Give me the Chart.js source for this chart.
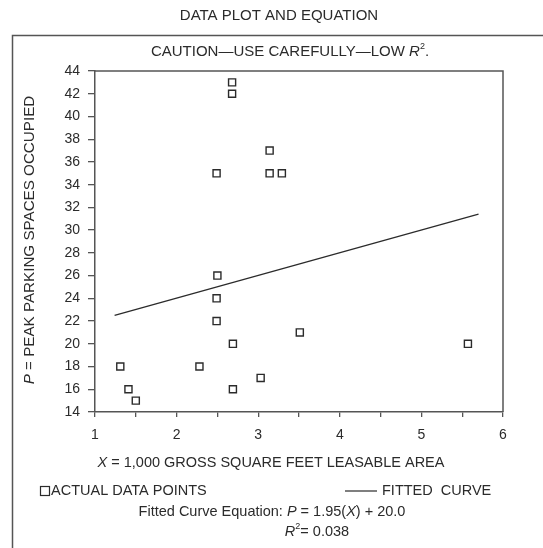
<!DOCTYPE html>
<html>
<head>
<meta charset="utf-8">
<script src="https://cdn.jsdelivr.net/npm/chart.js@4"></script>
<style>
  html, body { margin: 0; padding: 0; background: #fff; }
  #wrap { position: relative; width: 543px; height: 548px; }
</style>
</head>
<body>
<div id="wrap"><canvas id="chart"></canvas></div>
<script>
// actual data points
const areaX = [2.68, 2.68, 2.49, 3.14, 3.14, 3.29, 2.50, 2.49, 2.49, 2.69, 3.51, 1.31, 2.28, 1.41, 1.50, 2.69, 3.03, 5.57];
const spacesY = [43, 42, 35, 37, 35, 35, 26, 24, 22, 20, 21, 18, 18, 16, 15, 16, 17, 20];

// ends of the fitted line as drawn
const fitX = [1.24, 5.7];
const fitY = [22.5, 31.4];

const xTickLabels = ["1", "2", "3", "4", "5", "6"];

const INK = "#2b2b2b";
const AXIS = "#555555";
const FONT = 'Arial, "Liberation Sans", sans-serif';

// draw a line of text made of pieces: [text, italic, superscript]
function drawRich(ctx, parts, x, y, align, size) {
  const fontFor = (p) => `${p[1] ? "italic " : ""}${p[2] ? Math.round(size * 0.6) : size}px ${FONT}`;
  let total = 0;
  parts.forEach((p) => {
    ctx.font = fontFor(p);
    total += ctx.measureText(p[0]).width;
  });
  let cx = align === "center" ? x - total / 2 : align === "right" ? x - total : x;
  ctx.textAlign = "left";
  ctx.textBaseline = "middle";
  parts.forEach((p) => {
    ctx.font = fontFor(p);
    ctx.fillText(p[0], cx, p[2] ? y - size * 0.38 : y);
    cx += ctx.measureText(p[0]).width;
  });
}

const decorPlugin = {
  id: "decor",
  afterDraw(chart) {
    const ctx = chart.ctx;
    const a = chart.chartArea;
    ctx.save();

    // outer box (left and top edges show)
    ctx.strokeStyle = AXIS;
    ctx.lineWidth = 1.5;
    ctx.beginPath();
    ctx.moveTo(12.5, 548);
    ctx.lineTo(12.5, 35.5);
    ctx.lineTo(543, 35.5);
    ctx.stroke();

    // top and right of the plot frame
    ctx.beginPath();
    ctx.moveTo(a.left, a.top);
    ctx.lineTo(a.right, a.top);
    ctx.lineTo(a.right, a.bottom);
    ctx.stroke();

    ctx.fillStyle = INK;
    drawRich(ctx, [["DATA PLOT AND EQUATION"]], 279, 16, "center", 15);
    drawRich(ctx, [["CAUTION\u2014USE CAREFULLY\u2014LOW "], ["R", true], ["2", false, true], ["."]], 290, 52, "center", 15);

    // axis titles
    drawRich(ctx, [["X", true], [" = 1,000 GROSS SQUARE FEET LEASABLE AREA"]], 271, 463, "center", 14.5);
    ctx.save();
    ctx.translate(30, 240);
    ctx.rotate(-Math.PI / 2);
    drawRich(ctx, [["P", true], [" = PEAK PARKING SPACES OCCUPIED"]], 0, 0, "center", 15.2);
    ctx.restore();

    // legend
    ctx.lineWidth = 1.2;
    ctx.strokeStyle = INK;
    ctx.strokeRect(40.5, 486.5, 9, 9);
    drawRich(ctx, [["ACTUAL DATA POINTS"]], 51, 491, "left", 14.5);
    ctx.beginPath();
    ctx.moveTo(345, 491);
    ctx.lineTo(377, 491);
    ctx.stroke();
    drawRich(ctx, [["FITTED  CURVE"]], 382, 491, "left", 14.5);

    drawRich(ctx, [["Fitted Curve Equation: "], ["P", true], [" = 1.95("], ["X", true], [") + 20.0"]], 272, 512, "center", 14.5);
    drawRich(ctx, [["R", true], ["2", false, true], ["= 0.038"]], 317, 532, "center", 14.5);

    ctx.restore();
  }
};

const points = areaX.map((x, i) => ({ x, y: spacesY[i] }));
const fitLine = fitX.map((x, i) => ({ x, y: fitY[i] }));

new Chart(document.getElementById("chart"), {
  type: "scatter",
  data: {
    datasets: [
      {
        label: "ACTUAL DATA POINTS",
        data: points,
        pointStyle: "rect",
        pointRadius: 5,
        pointBackgroundColor: "#ffffff",
        pointBorderColor: INK,
        pointBorderWidth: 1.4
      },
      {
        type: "line",
        label: "FITTED CURVE",
        data: fitLine,
        borderColor: INK,
        borderWidth: 1.3,
        pointRadius: 0,
        fill: false
      }
    ]
  },
  options: {
    responsive: true,
    maintainAspectRatio: false,
    animation: false,
    devicePixelRatio: 1,
    layout: {
      autoPadding: false,
      padding: { left: 0, top: 71, right: 40, bottom: 0 }
    },
    plugins: {
      legend: { display: false },
      tooltip: { enabled: false }
    },
    scales: {
      x: {
        type: "linear",
        min: 1,
        max: 6,
        afterFit(scale) { scale.height = 136; },
        border: { display: true, color: AXIS, width: 1.5 },
        grid: { drawOnChartArea: false, drawTicks: true, tickLength: 5, color: AXIS, lineWidth: 1.3 },
        ticks: {
          stepSize: 0.5,
          autoSkip: false,
          maxRotation: 0,
          padding: 10,
          color: INK,
          font: { family: FONT, size: 14 },
          callback: (v) => (Number.isInteger(v) ? xTickLabels[v - 1] : "")
        }
      },
      y: {
        type: "linear",
        min: 14,
        max: 44,
        afterFit(scale) { scale.width = 95; },
        border: { display: true, color: AXIS, width: 1.5 },
        grid: { drawOnChartArea: false, drawTicks: true, tickLength: 7, color: AXIS, lineWidth: 1.3 },
        ticks: {
          stepSize: 2,
          autoSkip: false,
          padding: 8,
          color: INK,
          font: { family: FONT, size: 14 }
        }
      }
    }
  },
  plugins: [decorPlugin]
});
</script>
</body>
</html>
